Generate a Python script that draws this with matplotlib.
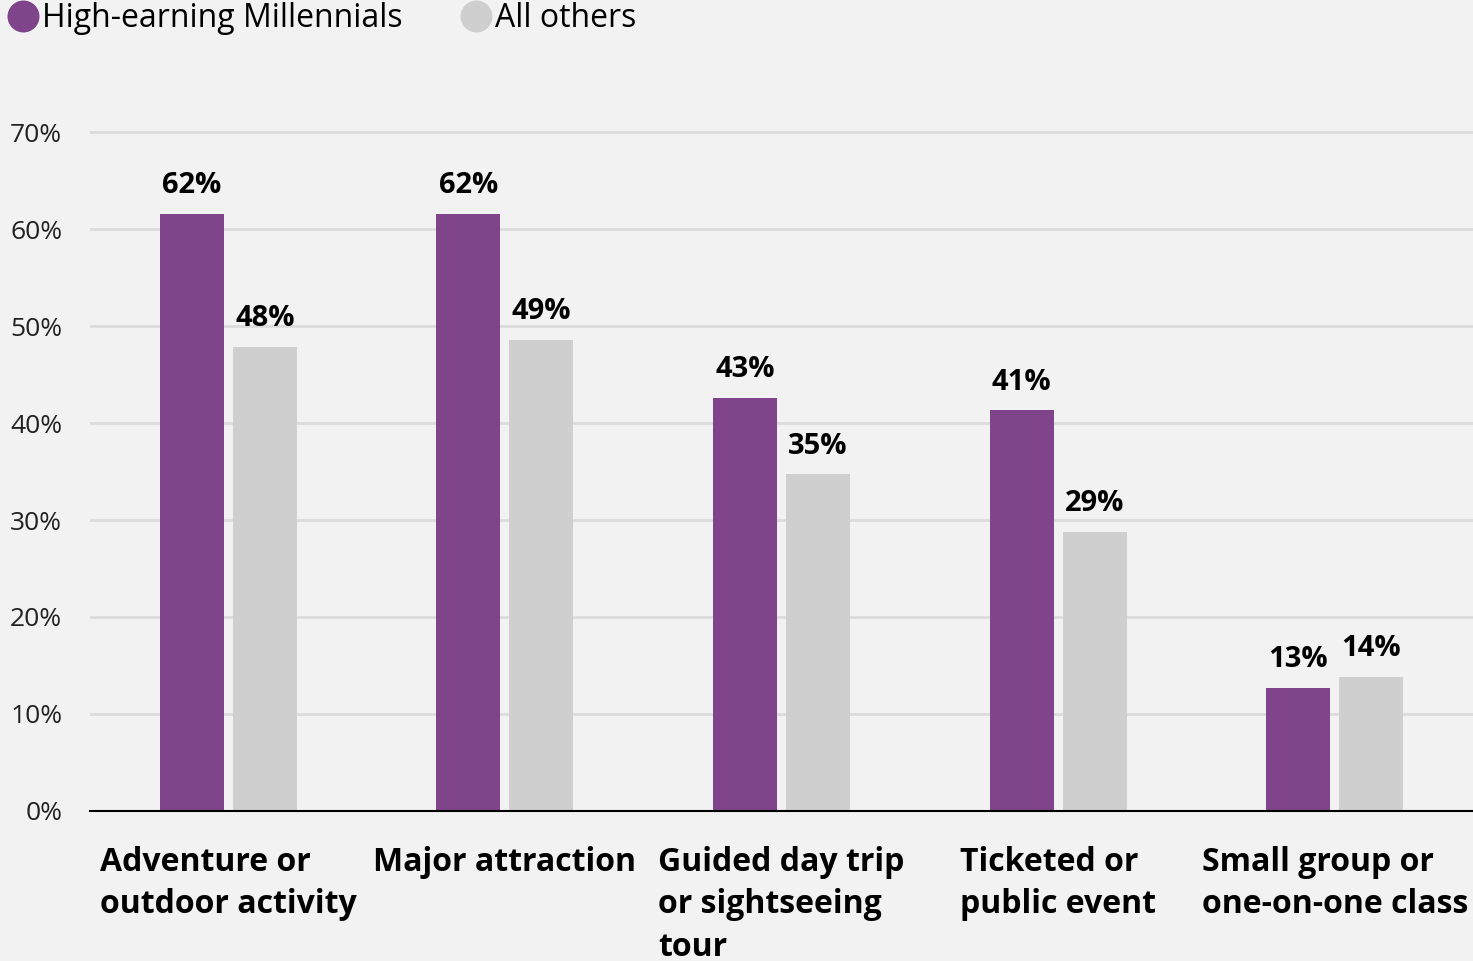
import matplotlib.pyplot as plt
from matplotlib.lines import Line2D
import numpy as np

categories = ['Adventure or\noutdoor activity', 'Major attraction',
              'Guided day trip\nor sightseeing\ntour', 'Ticketed or\npublic event',
              'Small group or\none-on-one class']
millennials = [61.6, 61.6, 42.6, 41.3, 12.7]
others = [47.8, 48.6, 34.7, 28.8, 13.8]
series_names = ['High-earning Millennials', 'All others']
yticks = [0, 10, 20, 30, 40, 50, 60, 70]

purple = '#7f4489'
grey = '#cfcfcf'
bg = '#f2f2f2'

plt.rcParams['font.family'] = ['Open Sans', 'DejaVu Sans']

fig = plt.figure(figsize=(14.73, 9.61), dpi=100, facecolor=bg)
ax = fig.add_axes([0.0611, 0.1561, 0.9389, 0.7267])
ax.set_facecolor(bg)

x = np.arange(len(categories))
w = 0.231
off = 0.132
b1 = ax.bar(x - off, millennials, w, color=purple, zorder=3)
b2 = ax.bar(x + off, others, w, color=grey, zorder=3)

for bars, vals in [(b1, millennials), (b2, others)]:
    for r, v in zip(bars, vals):
        ax.annotate('%.0f%%' % v, (r.get_x() + r.get_width() / 2, v),
                    xytext=(0, 10), textcoords='offset points',
                    ha='center', va='bottom', fontsize=21, fontweight='bold')

ax.set_xlim(-0.5, 4.5)
ax.set_ylim(0, 72)
ax.set_yticks(yticks)
ax.set_yticklabels(['%d%%' % t for t in yticks], fontsize=19, color='#222222')
ax.set_xticks(x)
ax.set_xticklabels(categories, fontsize=23, fontweight='bold',
                   multialignment='left', va='top', linespacing=1.38)
ax.tick_params(axis='y', length=0, pad=20)
ax.tick_params(axis='x', length=0, pad=25)

ax.grid(axis='y', color='#dcdcdc', linewidth=2, zorder=0)
for s in ['top', 'right', 'left']:
    ax.spines[s].set_visible(False)
ax.spines['bottom'].set_color('black')
ax.spines['bottom'].set_linewidth(1.5)
ax.spines['bottom'].set_zorder(4)

handles = [Line2D([], [], marker='o', linestyle='', markersize=22, color=purple),
           Line2D([], [], marker='o', linestyle='', markersize=22, color=grey)]
fig.legend(handles, series_names, loc='upper left', bbox_to_anchor=(-0.0145, 1.028),
           ncol=2, frameon=False, fontsize=23, handletextpad=0.12,
           columnspacing=1.85, handlelength=0.95)

fig.savefig('out.png', dpi=100, facecolor=bg)
